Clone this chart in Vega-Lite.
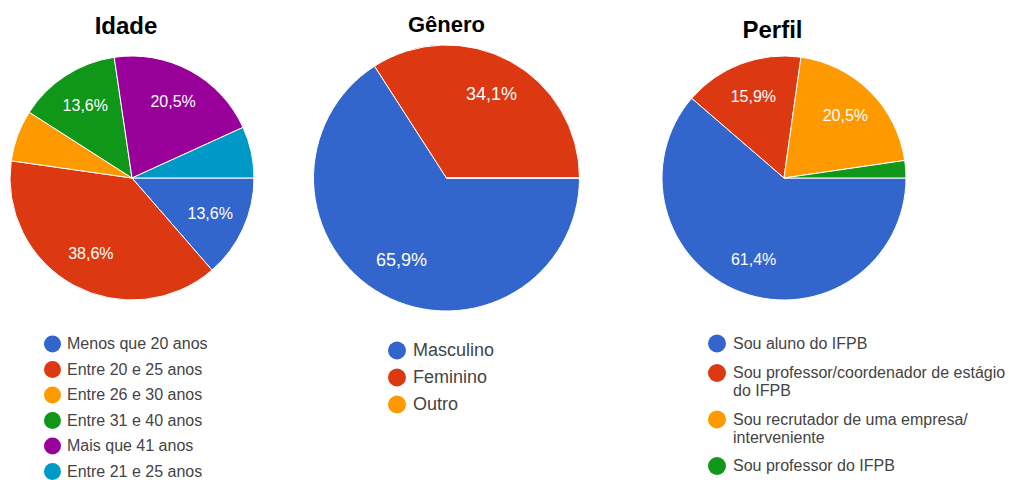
{
  "$schema": "https://vega.github.io/schema/vega-lite/v6.json",
  "padding": {"left": 0, "top": 14, "right": 0, "bottom": 0},
  "background": "white",
  "config": {
    "view": {"stroke": null},
    "locale": {"number": {"decimal": ",", "thousands": ".", "grouping": [3], "currency": ["R$", ""]}},
    "font": "Liberation Sans"
  },
  "datasets": {
    "idade": [
      {"categoria": "Menos que 20 anos", "pct": 0.136, "ordem": 1},
      {"categoria": "Entre 20 e 25 anos", "pct": 0.386, "ordem": 2},
      {"categoria": "Entre 26 e 30 anos", "pct": 0.068, "ordem": 3},
      {"categoria": "Entre 31 e 40 anos", "pct": 0.136, "ordem": 4},
      {"categoria": "Mais que 41 anos", "pct": 0.205, "ordem": 5},
      {"categoria": "Entre 21 e 25 anos", "pct": 0.068, "ordem": 6}
    ],
    "genero": [
      {"categoria": "Masculino", "pct": 0.659, "ordem": 1},
      {"categoria": "Feminino", "pct": 0.341, "ordem": 2},
      {"categoria": "Outro", "pct": 0.0, "ordem": 3}
    ],
    "perfil": [
      {"categoria": "Sou aluno do IFPB", "pct": 0.614, "ordem": 1},
      {"categoria": "Sou professor/coordenador de estágio do IFPB", "pct": 0.159, "ordem": 2},
      {"categoria": "Sou recrutador de uma empresa/ interveniente", "pct": 0.205, "ordem": 3},
      {"categoria": "Sou professor do IFPB", "pct": 0.023, "ordem": 4}
    ]
  },
  "hconcat": [
    {
      "width": 264,
      "height": 270,
      "data": {"name": "idade"},
      "title": {"text": "Idade", "fontSize": 24, "fontWeight": "bold", "font": "Liberation Sans", "color": "#000000", "anchor": "middle", "frame": "group", "baseline": "alphabetic", "offset": -15, "dx": -6},
      "encoding": {
        "theta": {"field": "pct", "type": "quantitative", "stack": true, "scale": {"range": [1.5708, 7.854]}},
        "order": {"field": "ordem", "type": "quantitative"}
      },
      "layer": [
        {
          "mark": {"type": "arc", "outerRadius": 122, "stroke": "white", "strokeWidth": 1},
          "encoding": {
            "color": {
              "field": "categoria", "type": "nominal",
              "scale": {
                "domain": ["Menos que 20 anos", "Entre 20 e 25 anos", "Entre 26 e 30 anos", "Entre 31 e 40 anos", "Mais que 41 anos", "Entre 21 e 25 anos"],
                "range": ["#3366cc", "#dc3912", "#ff9900", "#109618", "#990099", "#0099c6"]
              },
              "legend": {
                "orient": "none", "legendX": 44, "legendY": 292.5, "title": null, "padding": 0,
                "symbolType": "circle", "symbolSize": 289, "symbolStrokeWidth": 0,
                "labelFontSize": 16, "labelColor": "#444444", "labelFont": "Liberation Sans",
                "labelOffset": 6, "labelLimit": 400, "rowPadding": 8.5
              }
            }
          }
        },
        {
          "mark": {"type": "text", "radius": 86, "color": "white", "fontSize": 16, "font": "Liberation Sans"},
          "encoding": {
            "text": {"condition": {"test": "datum.pct < 0.1", "value": ""}, "field": "pct", "type": "quantitative", "format": ".1%"}
          }
        }
      ]
    },
    {
      "width": 305,
      "height": 270,
      "data": {"name": "genero"},
      "title": {"text": "Gênero", "fontSize": 22, "fontWeight": "bold", "font": "Liberation Sans", "color": "#000000", "anchor": "middle", "frame": "group", "baseline": "alphabetic", "offset": -11},
      "encoding": {
        "theta": {"field": "pct", "type": "quantitative", "stack": true, "scale": {"range": [1.5708, 7.854]}},
        "order": {"field": "ordem", "type": "quantitative"}
      },
      "layer": [
        {
          "mark": {"type": "arc", "outerRadius": 133, "stroke": "white", "strokeWidth": 1},
          "encoding": {
            "color": {
              "field": "categoria", "type": "nominal",
              "scale": {
                "domain": ["Masculino", "Feminino", "Outro"],
                "range": ["#3366cc", "#dc3912", "#ff9900"]
              },
              "legend": {
                "orient": "none", "legendX": 94, "legendY": 298.5, "title": null, "padding": 0,
                "symbolType": "circle", "symbolSize": 324, "symbolStrokeWidth": 0,
                "labelFontSize": 18, "labelColor": "#444444", "labelFont": "Liberation Sans",
                "labelOffset": 7, "labelLimit": 400, "rowPadding": 9
              }
            }
          }
        },
        {
          "mark": {"type": "text", "radius": 94, "color": "white", "fontSize": 18, "font": "Liberation Sans"},
          "encoding": {
            "text": {"condition": {"test": "datum.pct < 0.1", "value": ""}, "field": "pct", "type": "quantitative", "format": ".1%"}
          }
        }
      ]
    },
    {
      "width": 310,
      "height": 270,
      "data": {"name": "perfil"},
      "title": {"text": "Perfil", "fontSize": 24, "fontWeight": "bold", "font": "Liberation Sans", "color": "#000000", "anchor": "middle", "frame": "group", "baseline": "alphabetic", "offset": -19, "dx": -11.5},
      "encoding": {
        "theta": {"field": "pct", "type": "quantitative", "stack": true, "scale": {"range": [1.5708, 7.854]}},
        "order": {"field": "ordem", "type": "quantitative"}
      },
      "layer": [
        {
          "mark": {"type": "arc", "outerRadius": 122, "stroke": "white", "strokeWidth": 1},
          "encoding": {
            "color": {
              "field": "categoria", "type": "nominal",
              "scale": {
                "domain": ["Sou aluno do IFPB", "Sou professor/coordenador de estágio do IFPB", "Sou recrutador de uma empresa/ interveniente", "Sou professor do IFPB"],
                "range": ["#3366cc", "#dc3912", "#ff9900", "#109618"]
              },
              "legend": {
                "orient": "none", "legendX": 79, "legendY": 291.5, "title": null, "padding": 0,
                "symbolType": "circle", "symbolSize": 324, "symbolStrokeWidth": 0,
                "labelFontSize": 16, "labelColor": "#444444", "labelFont": "Liberation Sans",
                "labelOffset": 7, "labelLimit": 400, "rowPadding": 11.5,
                "labelExpr": "datum.label == 'Sou professor/coordenador de estágio do IFPB' ? ['Sou professor/coordenador de estágio', 'do IFPB'] : datum.label == 'Sou recrutador de uma empresa/ interveniente' ? ['Sou recrutador de uma empresa/', 'interveniente'] : datum.label"
              }
            }
          }
        },
        {
          "mark": {"type": "text", "radius": 87, "color": "white", "fontSize": 16, "font": "Liberation Sans"},
          "encoding": {
            "text": {"condition": {"test": "datum.pct < 0.1", "value": ""}, "field": "pct", "type": "quantitative", "format": ".1%"}
          }
        }
      ]
    }
  ],
  "spacing": 30,
  "bounds": "flush",
  "resolve": {"scale": {"color": "independent", "theta": "independent"}, "legend": {"color": "independent"}}
}
